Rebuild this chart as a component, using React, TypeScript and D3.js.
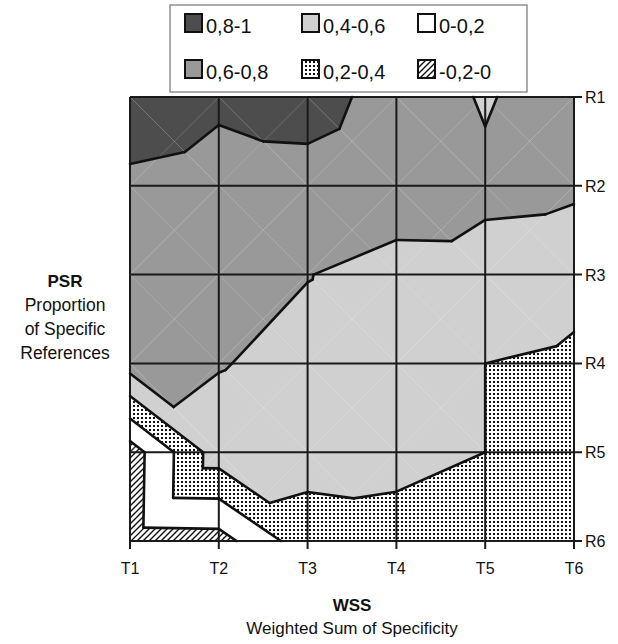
import React from "react";
import * as d3 from "d3";

const colLabels = ["T1", "T2", "T3", "T4", "T5", "T6"];
const rowLabels = ["R1", "R2", "R3", "R4", "R5", "R6"];
// surface values (rows R1..R6, columns T1..T6)
const rowR1 = [0.92, 0.834, 0.838, 0.762, 0.575, 0.76];
const rowR2 = [0.761, 0.726, 0.766, 0.732, 0.65, 0.638];
const rowR3 = [0.7, 0.66, 0.606, 0.516, 0.52, 0.453];
const rowR4 = [0.69, 0.611, 0.538, 0.5, 0.4, 0.371];
const rowR5 = [-0.1, 0.507, 0.465, 0.448, 0.4, 0.33];
const rowR6 = [-0.09, -0.08, 0.32, 0.34, 0.28, 0.3];
const bandLabels = ["0,8-1", "0,6-0,8", "0,4-0,6", "0,2-0,4", "0-0,2", "-0,2-0"];
const bandLow = [0.8, 0.6, 0.4, 0.2, 0, -0.2];
const bandHigh = [1, 0.8, 0.6, 0.4, 0.2, 0];
const contourLevels = [0.8, 0.6, 0.4, 0.2, 0];

const bandFill = ["#4d4d4d", "#999999", "#d0d0d0", "url(#dots)", "#ffffff", "url(#hatch)"];
const FONT = "'Liberation Sans', Arial, sans-serif";

type P = { x: number; y: number; v: number };

function interp(a: P, b: P, level: number): P {
  const t = b.v === a.v ? 0 : (level - a.v) / (b.v - a.v);
  return { x: a.x + t * (b.x - a.x), y: a.y + t * (b.y - a.y), v: level };
}
function clip(poly: P[], level: number, keepAbove: boolean): P[] {
  const out: P[] = [];
  const inside = (p: P) => (keepAbove ? p.v >= level : p.v <= level);
  for (let i = 0; i < poly.length; i++) {
    const a = poly[i];
    const b = poly[(i + 1) % poly.length];
    const ia = inside(a), ib = inside(b);
    if (ia && ib) out.push(b);
    else if (ia && !ib) out.push(interp(a, b, level));
    else if (!ia && ib) {
      out.push(interp(a, b, level));
      out.push(b);
    }
  }
  return out;
}

export default function App() {
  const grid = [rowR1, rowR2, rowR3, rowR4, rowR5, rowR6];
  const x = d3.scalePoint<string>().domain(colLabels).range([130, 574]);
  const y = d3.scalePoint<string>().domain(rowLabels).range([97, 541]);
  const node = (r: number, c: number): P => ({
    x: x(colLabels[c])!,
    y: y(rowLabels[r])!,
    v: grid[r][c],
  });

  const tris: P[][] = [];
  const cells: P[][] = [];
  for (let r = 0; r < rowLabels.length - 1; r++) {
    for (let c = 0; c < colLabels.length - 1; c++) {
      const TL = node(r, c), TR = node(r, c + 1), BL = node(r + 1, c), BR = node(r + 1, c + 1);
      cells.push([TL, TR, BR, BL]);
      if (TL.v + BR.v >= TR.v + BL.v) {
        tris.push([TL, TR, BR], [TL, BR, BL]);
      } else {
        tris.push([TL, TR, BL], [TR, BR, BL]);
      }
    }
  }

  const line = d3.line<P>().x((d) => d.x).y((d) => d.y);

  const fills: { d: string; fill: string }[] = [];
  tris.forEach((tri) => {
    bandLow.forEach((lo, i) => {
      let poly = clip(tri, lo, true);
      if (poly.length >= 3) poly = clip(poly, bandHigh[i], false);
      if (poly.length >= 3) fills.push({ d: line(poly)! + "Z", fill: bandFill[i] });
    });
  });

  const segs: string[] = [];
  contourLevels.forEach((lev) => {
    tris.forEach((tri) => {
      const pts: P[] = [];
      for (let i = 0; i < 3; i++) {
        const a = tri[i], b = tri[(i + 1) % 3];
        if ((a.v >= lev) !== (b.v >= lev)) pts.push(interp(a, b, lev));
      }
      if (pts.length === 2) {
        const len = Math.hypot(pts[0].x - pts[1].x, pts[0].y - pts[1].y);
        if (len > 0.05) segs.push(line(pts)!);
      }
    });
  });

  const x0 = x(colLabels[0])!, x1 = x(colLabels[colLabels.length - 1])!;
  const y0 = y(rowLabels[0])!, y1 = y(rowLabels[rowLabels.length - 1])!;

  const legendX = [185, 302, 418];
  const legendY = [14, 60];

  return (
    <svg width={618} height={644} style={{ position: "absolute", left: 0, top: 0 }} fontFamily={FONT}>
      <defs>
        <pattern id="dots" width={4} height={4} patternUnits="userSpaceOnUse">
          <rect width={4} height={4} fill="#fff" />
          <rect x={1} y={1} width={2} height={2} fill="#111" />
        </pattern>
        <pattern id="hatch" width={6} height={6} patternUnits="userSpaceOnUse">
          <rect width={6} height={6} fill="#fff" />
          <path d="M0,6 L6,0 M-1,1 L1,-1 M5,7 L7,5" stroke="#111" strokeWidth={1.4} />
        </pattern>
      </defs>
      <rect width={618} height={644} fill="#fff" />

      {/* filled bands */}
      <g>
        {fills.map((f, i) => (
          <path key={i} d={f.d} fill={f.fill} stroke={f.fill} strokeWidth={0.5} strokeLinejoin="round" />
        ))}
      </g>
      {/* faint triangulation seams */}
      <g stroke="#ffffff" strokeOpacity={0.22} strokeWidth={0.8}>
        {cells.map((c, i) => (
          <g key={i}>
            <line x1={c[0].x} y1={c[0].y} x2={c[2].x} y2={c[2].y} />
            <line x1={c[1].x} y1={c[1].y} x2={c[3].x} y2={c[3].y} />
          </g>
        ))}
      </g>
      {/* grid */}
      <g stroke="#1a1a1a" strokeWidth={2}>
        {colLabels.map((c) => (
          <line key={c} x1={x(c)} x2={x(c)} y1={y0} y2={y1 + 8} />
        ))}
        {rowLabels.map((r) => (
          <line key={r} x1={x0} x2={x1 + 8} y1={y(r)} y2={y(r)} />
        ))}
      </g>
      {/* contour lines */}
      <g stroke="#111" strokeWidth={2.6} fill="none" strokeLinecap="round" strokeLinejoin="round">
        {segs.map((d, i) => (
          <path key={i} d={d} />
        ))}
      </g>
      {/* tick labels */}
      <g fontSize={16} fill="#111">
        {colLabels.map((c) => (
          <text key={c} x={x(c)} y={574} textAnchor="middle">
            {c}
          </text>
        ))}
        {rowLabels.map((r) => (
          <text key={r} x={585} y={y(r)! + 6}>
            {r}
          </text>
        ))}
      </g>
      {/* axis titles */}
      <g fill="#111" textAnchor="middle">
        <text x={65} y={287} fontWeight="bold" fontSize={17}>PSR</text>
        <text x={65} y={311} fontSize={17.5}>Proportion</text>
        <text x={65} y={335} fontSize={17.5}>of Specific</text>
        <text x={65} y={359} fontSize={17.5}>References</text>
        <text x={352} y={611} fontWeight="bold" fontSize={17}>WSS</text>
        <text x={352} y={634} fontSize={17}>Weighted Sum of Specificity</text>
      </g>
      {/* legend */}
      <rect x={170} y={5} width={357} height={87} fill="#fff" stroke="#808080" strokeWidth={1.3} />
      {bandLabels.map((lab, i) => {
        const col = Math.floor(i / 2), row = i % 2;
        const lx = legendX[col], ly = legendY[row];
        return (
          <g key={lab}>
            <rect x={lx} y={ly} width={17} height={18} fill={bandFill[i]} stroke="#111" strokeWidth={2} />
            <text x={lx + 21} y={ly + 19} fontSize={20} fill="#111">
              {lab}
            </text>
          </g>
        );
      })}
    </svg>
  );
}
